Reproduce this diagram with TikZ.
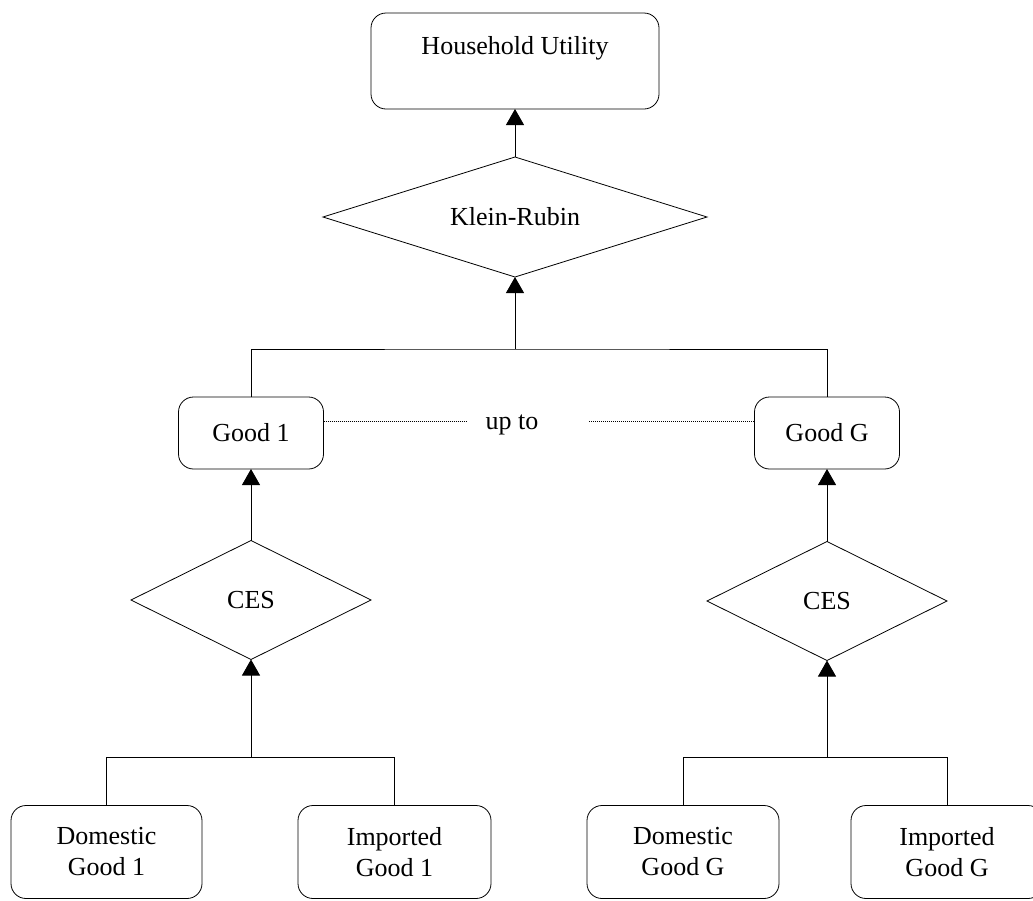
\documentclass[tikz,border=0pt]{standalone}
\usepackage{fontspec}
\setmainfont{Liberation Serif}
\usetikzlibrary{arrows.meta,shapes.geometric}
\tikzset{>={Triangle[width=9pt,length=8pt]},line width=1.1pt,
  every node/.style={font=\fontsize{13pt}{15.5pt}\selectfont},
  goodbox/.style={draw,rounded corners=7.5pt,align=center,inner sep=0pt,outer sep=0pt},
  aggr/.style={draw,diamond,aspect=3.2,inner sep=0pt,outer sep=0pt},
  link/.style={->},
  gap/.style={draw,line width=.5pt,dash pattern=on .5pt off .5pt}}

\begin{document}
\begin{tikzpicture}[x=.5pt,y=-.5pt]
\useasboundingbox(0,0)rectangle(1033,900);
\node[goodbox,minimum width=144pt,minimum height=48pt](util)at(515,61){Household Utility\\\mbox{}};
\node[aggr,minimum width=192pt,minimum height=60pt](kr)at(515,217){Klein-Rubin};
\node[goodbox,minimum width=72.5pt,minimum height=36pt](good1)at(251,433){Good 1};
\node[goodbox,minimum width=72.5pt,minimum height=36pt](goodG)at(827,433){Good G};
\node(upto)at(512,425){up to};
\node[aggr,minimum width=120pt,minimum height=59.5pt](ces1)at(251,600){CES};
\node[aggr,minimum width=120pt,minimum height=59.5pt](cesG)at(827,601){CES};
\node[goodbox,minimum width=95.5pt,minimum height=46.5pt](dom1)at(106.5,852){Domestic\\Good 1};
\node[goodbox,minimum width=96.5pt,minimum height=46.5pt](imp1)at(394.5,852){Imported\\Good 1};
\node[goodbox,minimum width=96pt,minimum height=46.5pt](domG)at(683,852){Domestic\\Good G};
\node[goodbox,minimum width=96pt,minimum height=46.5pt](impG)at(947,852){Imported\\Good G};
% joints of the tree
\coordinate(topbar)at(515,349);\coordinate(bar1)at(251,757);\coordinate(barG)at(827,757);
\coordinate(dotL)at(467,421);\coordinate(dotR)at(589,421);
\draw[link](kr.north)--(util.south);
\draw(good1.north)|-(topbar)-|(goodG.north);\draw[link](topbar)--(kr.south);
\draw[link](ces1.north)--(good1.south);\draw[link](cesG.north)--(goodG.south);
\draw(dom1.north)|-(bar1)-|(imp1.north);\draw[link](bar1)--(ces1.south);
\draw(domG.north)|-(barG)-|(impG.north);\draw[link](barG)--(cesG.south);
\draw[gap](good1.east|-dotL)--(dotL);\draw[gap](dotR)--(goodG.west|-dotR);
\end{tikzpicture}
\end{document}
